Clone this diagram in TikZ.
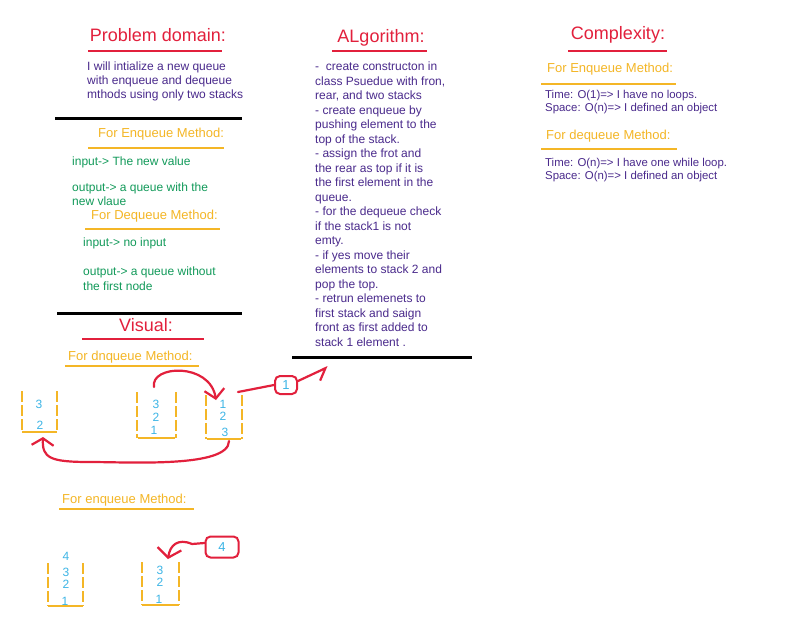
\documentclass[tikz,border=0pt]{standalone}
\usepackage{fontspec}
\setmainfont{Liberation Sans}
\usetikzlibrary{arrows.meta}
\definecolor{hred}{HTML}{E2203C}
\definecolor{hpurple}{HTML}{4A2A8C}
\definecolor{hgreen}{HTML}{129A5A}
\definecolor{hyellow}{HTML}{F4B626}
\definecolor{hcyan}{HTML}{3DB5E6}
\begin{document}
\begin{tikzpicture}[x=1pt,y=-1pt,
  every node/.style={inner sep=0pt},
  ln/.style={anchor=mid west, font=\fontsize{12}{14}\selectfont},
  ptxt/.style={ln,text=hpurple},
  gtxt/.style={ln,text=hgreen},
  ctxt/.style={anchor=mid west,text=hpurple,font=\fontsize{11.4}{13}\selectfont},
  ttl/.style={anchor=mid,text=hred,font=\fontsize{18}{20}\selectfont},
  yhd/.style={anchor=mid west,text=hyellow,font=\fontsize{13}{15}\selectfont},
  num/.style={text=hcyan,font=\fontsize{12}{14}\selectfont},
  redul/.style={draw=hred,line width=2.5pt},
  yelul/.style={draw=hyellow,line width=2.5pt},
  blk/.style={draw=black,line width=3pt},
  sbar/.style={draw=hyellow,line width=2pt,dash pattern=on 11pt off 3pt},
  sbase/.style={draw=hyellow,line width=1.2pt},
  rarrow/.style={draw=hred,line width=2.2pt,line cap=round,line join=round},
  rbox/.style={draw=hred,line width=2pt,rounded corners=5pt,text=hcyan,font=\fontsize{13}{15}\selectfont},
]
\useasboundingbox[fill=white] (0,0) rectangle (785,622);

% ---------- Problem domain ----------
\node[ttl] (tprob) at (158,39) {Problem domain:};
\draw[redul] (88,51) -- (222,51);
\node[ptxt] (p1) at (87,68) {I will intialize a new queue};
\node[ptxt] (p2) at (87,82) {with enqueue and dequeue};
\node[ptxt] (p3) at (87,96) {mthods using only two stacks};
\draw[blk] (55,118) -- (242,118);

\node[yhd] (hpe) at (98,135) {For Enqueue Method:};
\draw[yelul] (88,148) -- (224,148);
\node[gtxt] (g1) at (72,163) {input-> The new value};
\node[gtxt] (g2) at (72,189) {output-> a queue with the};
\node[gtxt] (g3) at (72,203) {new vlaue};
\node[yhd] (hpd) at (91,217) {For Dequeue Method:};
\draw[yelul] (85,229) -- (220,229);
\node[gtxt] (g4) at (83,244) {input-> no input};
\node[gtxt] (g5) at (83,273) {output-> a queue without};
\node[gtxt] (g6) at (83,288) {the first node};
\draw[blk] (57,313) -- (242,313);

% ---------- Algorithm ----------
\node[ttl] (talg) at (381,40) {ALgorithm:};
\draw[redul] (332,51) -- (427,51);
\foreach \t [count=\i from 0] in {
  {-\ \ create constructon in},
  {class Psuedue with fron,},
  {rear, and two stacks},
  {- create enqueue by},
  {pushing element to the},
  {top of the stack.},
  {- assign the frot and},
  {the rear as top if it is},
  {the first element in the},
  {queue.},
  {- for the dequeue check},
  {if the stack1 is not},
  {emty.},
  {- if yes move their},
  {elements to stack 2 and},
  {pop the top.},
  {- retrun elemenets to},
  {first stack and saign},
  {front as first added to},
  {stack 1 element .}}
  \node[ptxt] (alg\i) at (315,68+14.5*\i) {\t};
\draw[blk] (292,357) -- (472,357);

% ---------- Complexity ----------
\node[ttl] (tcomp) at (618,37) {Complexity:};
\draw[redul] (568,51) -- (667,51);
\node[yhd] (hce) at (547,70) {For Enqueue Method:};
\draw[yelul] (541,84) -- (676,84);
\node[ctxt] (c1) at (545,96) {Time: O(1)=> I have no loops.};
\node[ctxt] (c2) at (545,109) {Space: O(n)=> I defined an object};
\node[yhd] (hcd) at (546,137) {For dequeue Method:};
\draw[yelul] (541,149) -- (677,149);
\node[ctxt] (c3) at (545,164) {Time: O(n)=> I have one while loop.};
\node[ctxt] (c4) at (545,177) {Space: O(n)=> I defined an object};

% ---------- Visual ----------
\node[ttl] (tvis) at (146,329) {Visual:};
\draw[redul] (82,339) -- (204,339);
\node[yhd] (hvd) at (68,358) {For dnqueue Method:};
\draw[yelul] (65,366) -- (199,366);

% stack A
\draw[sbar] (22,391) -- (22,432);
\draw[sbar] (57,391) -- (57,432);
\draw[sbase] (22,432) -- (57,432);
\node[num] (a3) at (39,404) {3};
\node[num] (a2) at (40,425) {2};
% stack B
\draw[sbar] (137,392) -- (137,438);
\draw[sbar] (176,392) -- (176,438);
\draw[sbase] (138,438) -- (175,438);
\node[num] (b3) at (156,404) {3};
\node[num] (b2) at (156,417) {2};
\node[num] (b1) at (154,430) {1};
% stack C
\draw[sbar] (206,395) -- (206,439);
\draw[sbar] (242,395) -- (242,439);
\draw[sbase] (207,439) -- (241,439);
\node[num] (cc1) at (223,404) {1};
\node[num] (cc2) at (223,416) {2};
\node[num] (cc3) at (225,432) {3};

\coordinate (bt) at (154,387);
\coordinate (ct) at (216,400);
\coordinate (cb) at (229,441);
\coordinate (ab) at (43,437);
\coordinate (cr) at (238,392);
\coordinate (out1) at (328,367);
\node[rbox,minimum width=22pt,minimum height=18pt] (box1) at (286,385) {1};

\draw[rarrow,-{Straight Barb[length=9pt,width=20pt]}] (bt) .. controls (150,365) and (210,362) .. (ct);
\draw[rarrow,-{Straight Barb[length=7pt,width=22pt]}] (cb) .. controls (229,468) and (130,462) .. (90,462) .. controls (50,462) and (42,458) .. (ab);
\draw[rarrow] (cr) -- (box1.west);
\draw[rarrow,-{Straight Barb[length=10pt,width=18pt,right]}] ([yshift=4pt]box1.east) -- (out1);

% ---------- enqueue visual ----------
\node[yhd] (hve) at (62,501) {For enqueue Method:};
\draw[yelul] (59,509) -- (194,509);

% stack D
\node[num] (d4) at (66,556) {4};
\draw[sbar] (48,563) -- (48,606);
\draw[sbar] (83,563) -- (83,606);
\draw[sbase] (48,606) -- (83,606);
\node[num] (d3) at (66,572) {3};
\node[num] (d2) at (66,584) {2};
\node[num] (d1) at (65,601) {1};
% stack E
\draw[sbar] (142,562) -- (142,605);
\draw[sbar] (179,562) -- (179,605);
\draw[sbase] (142,605) -- (179,605);
\node[num] (e3) at (160,570) {3};
\node[num] (e2) at (160,582) {2};
\node[num] (e1) at (159,599) {1};

\node[rbox,minimum width=33pt,minimum height=21pt] (box4) at (222,547) {4};
\coordinate (et) at (168,559);
\draw[rarrow,-{Straight Barb[length=9pt,width=24pt]}] ([yshift=4pt]box4.west) -- (192,544) .. controls (178,538) and (170,545) .. (et);
\end{tikzpicture}
\end{document}
